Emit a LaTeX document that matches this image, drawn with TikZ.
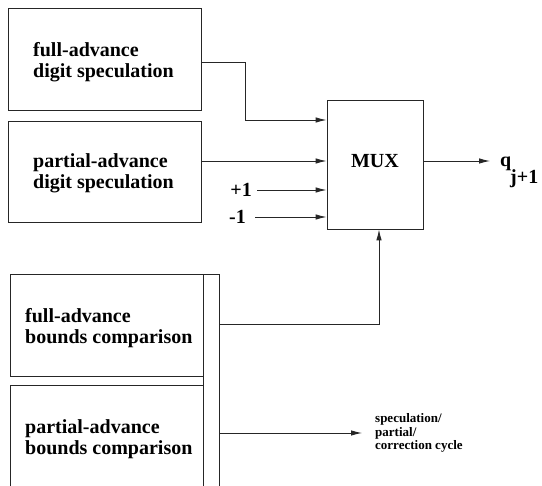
\documentclass[tikz,border=0pt]{standalone}
\usepackage{fontspec}
\setmainfont{Liberation Serif}[BoldFont={Liberation Serif Bold},ItalicFont={Liberation Serif Italic}]
\usetikzlibrary{arrows.meta}
\begin{document}
\begin{tikzpicture}[x=1pt,y=-1pt,
  wire/.style={draw=black!85,line width=0.9pt},
  arr/.style={wire,-{Latex[length=11pt,width=5.5pt]}},
  blk/.style={draw=black!85,line width=0.9pt,rectangle,inner sep=0pt},
  big/.style={font=\fontsize{20}{21}\selectfont\bfseries,align=left,inner sep=0pt},
  small/.style={font=\fontsize{13}{13.5}\selectfont\bfseries,align=left,inner sep=0pt}]
\useasboundingbox (0,0) rectangle (542,486);
% speculation blocks
\node[blk,minimum width=193pt,minimum height=102pt] (fds) at (104.5,59.5) {};
\node[blk,minimum width=193pt,minimum height=101pt] (pds) at (104.5,171.5) {};
\node[big,anchor=west] at (33,62) {full-advance\\digit speculation};
\node[big,anchor=west] at (33,173) {partial-advance\\digit speculation};
% multiplexer
\node[blk,minimum width=96pt,minimum height=129pt] (mux) at (375,164.5) {};
\node[big] at (375,161.5) {MUX};
% bounds comparison blocks and side bar
\node[blk,minimum width=193pt,minimum height=102pt] (fbc) at (106.5,325) {};
\node[blk,minimum width=193pt,minimum height=120pt] (pbc) at (106.5,445) {};
\node[blk,minimum width=16pt,minimum height=230pt] (bar) at (211,389) {};
\node[big,anchor=west] at (25,328) {full-advance\\bounds comparison};
\node[big,anchor=west] at (25,439.5) {partial-advance\\bounds comparison};
% constant inputs
\node[big,anchor=base east] (p1) at (252,197) {+1};
\node[big,anchor=base east] (m1) at (246,224) {-1};
% outputs
\node[big,anchor=base west] (q) at (500,167) {q};
\node[big,anchor=base west] at (510,184) {j+1};
\node[small,anchor=west] (cyc) at (375,433) {speculation/\\partial/\\correction cycle};
\coordinate (cycin) at ([xshift=-13pt]cyc.west);
% connections
\draw[arr] ([yshift=-2.5pt]fds.east) -| (245,120) -- (mux.west |- 0,120);
\draw[arr] (pds.east |- 0,161) -- (mux.west |- 0,161);
\draw[arr] ([xshift=5pt]p1.east |- 0,190) -- (mux.west |- 0,190);
\draw[arr] ([xshift=9pt]m1.east |- 0,217) -- (mux.west |- 0,217);
\draw[arr] (mux.east |- 0,161) -- (490,161);
\draw[arr] (bar.east |- 0,324) -| ([xshift=4pt]mux.south);
\draw[arr] (bar.east |- cycin) -- (cycin);
\end{tikzpicture}
\end{document}
